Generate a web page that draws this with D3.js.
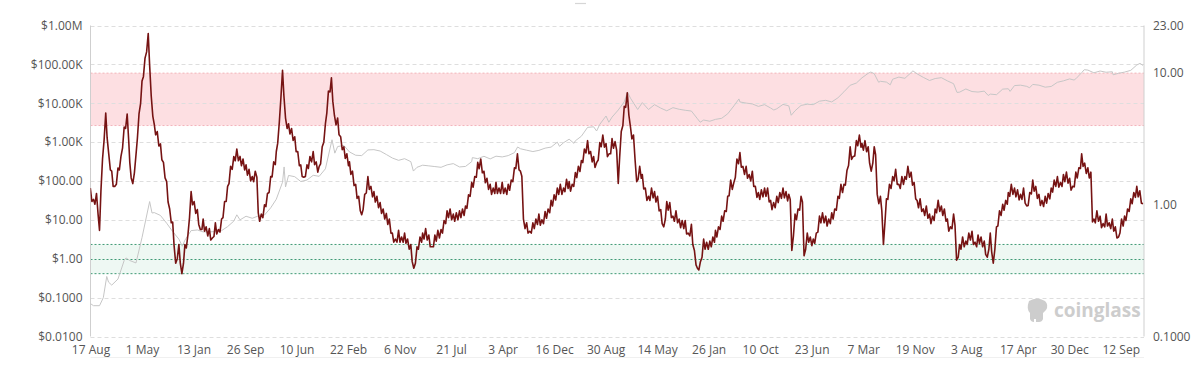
<!DOCTYPE html>
<html><head><meta charset="utf-8">
<script src="https://cdn.jsdelivr.net/npm/d3@7"></script>
<style>
body{margin:0;background:#fff}
svg{display:block}
text{font-family:"Open Sans",sans-serif}
</style>
</head><body>
<svg id="chart" width="1200" height="375"></svg>
<script>
// ---------- DATA ----------
// x-axis tick labels (every 257 days)
const tickDates = ["2010-08-17","2011-05-01","2012-01-13","2012-09-26","2013-06-10","2014-02-22","2014-11-06",
  "2015-07-21","2016-04-03","2016-12-16","2017-08-30","2018-05-14","2019-01-26","2019-10-10","2020-06-23",
  "2021-03-07","2021-11-19","2022-08-03","2023-04-17","2023-12-30","2024-09-12"];
const leftTicks = [0.01,0.1,1,10,100,1000,10000,100000,1000000];
const leftLabels = ["$0.0100","$0.1000","$1.00","$10.00","$100.00","$1.00K","$10.00K","$100.00K","$1.00M"];
const rightTicks = [0.1,1,10,23];
const rightLabels = ["0.1000","1.00","10.00","23.00"];
// Zones (right axis units)
const highZone = [4,10];
const lowZone = [0.3,0.5];

// Indicator (right axis): readings of the noisy band, 4 per month (days 1, 8, 16, 24)
const puell2010 = [1.34,1.06, 1.1,1.01,1.22,0.84, 0.64,1.27,2.23,3.13, 4.98,3.22,2.44,1.84, 1.8,1.38,1.38,1.43]; // from 16 Aug
const puell2011 = [1.9,1.84,2.33,2.71, 3.9,3.8,4.9,3.0, 2.1,1.6,1.45,1.75, 2.4,3.2,4.9,5.9, 8.7,9.4,13,14.5, 20,11.5,6.7,4.7,
  4.1,3.4,3.6,2.8, 2.9,2.2,2.1,1.6, 1.5,1.05,0.93,0.73, 0.74,0.49,0.36,0.39, 0.5,0.36,0.30,0.36, 0.5,0.47,0.59,0.8];
const puell2012 = [1.26,1.0,1.06,0.86, 0.92,0.71,0.65,0.65, 0.78,0.63,0.68,0.58, 0.66,0.54,0.56,0.575, 0.73,0.6,0.65,0.62, 0.78,0.8,1.06,1.06,
  1.38,1.45,1.96,1.86, 2.33,2.16,2.65,2.16, 2.33,1.98,2.23,1.84, 2.01,1.68,1.86,1.52, 1.64,1.5,1.8,1.62, 0.87,0.75,0.85,0.8];
const puell2013 = [1.0,0.97,1.22,1.24, 1.64,1.63,2.12,2.02, 2.54,2.94,4.24,6.5, 10.5,6.7,4.56,3.8, 4.13,3.45,3.8,3.08, 3.29,2.53,2.54,1.98,
  2.01,1.64,1.62,1.64, 2.01,1.89,2.33,2.12, 2.54,2.02,2.12,1.77, 1.96,2.05,2.76,2.99, 4.13,4.97,7.3,7.2, 9.2,6.1,4.77,4.05];
const puell2014 = [4.56,3.4,3.29,2.62, 2.76,2.25,2.44,1.98, 2.12,1.7,1.8,1.4, 1.43,1.12,1.16,0.9, 0.84,0.92,1.2,1.23, 1.64,1.31,1.38,1.15,
  1.26,1.05,1.16,0.95, 1.04,0.86,0.93,0.78, 0.86,0.71,0.78,0.61, 0.61,0.52,0.55,0.52, 0.64,0.52,0.57,0.52, 0.61,0.51,0.55,0.46];
const puell2015 = [0.5,0.37,0.33,0.36, 0.48,0.46,0.57,0.52, 0.61,0.55,0.66,0.54, 0.59,0.48,0.48,0.48, 0.59,0.53,0.64,0.56, 0.65,0.61,0.76,0.72,
  0.9,0.8,0.93,0.77, 0.85,0.75,0.87,0.77, 0.9,0.8,0.93,0.83, 0.98,0.94,1.19,1.16, 1.48,1.36,1.64,1.62, 2.1,1.88,2.23,1.75];
const puell2016 = [1.8,1.47,1.59,1.31, 1.43,1.2,1.34,1.22, 1.48,1.22,1.34,1.22, 1.48,1.22,1.34,1.2, 1.43,1.29,1.54,1.5, 1.91,1.89,2.44,1.84,
  1.8,1.65,0.78,0.66, 0.73,0.61,0.63,0.61, 0.73,0.66,0.78,0.71, 0.85,0.7,0.77,0.72, 0.89,0.79,0.93,0.87, 1.08,0.98,1.19,1.09];
const puell2017 = [1.34,1.2,1.43,1.2, 1.34,1.26,1.56,1.33, 1.5,1.27,1.43,1.38, 1.76,1.61,1.96,1.79, 2.17,2.09,2.65,2.48, 3.07,2.44,2.54,2.12,
  2.33,1.92,2.09,2.19, 2.97,2.76,3.39,2.74, 2.92,2.32,2.44,2.44, 3.18,2.69,3.02,2.6, 1.45,2.3,3.6,4.0, 5.6,5.5,7.1,4.8];
const puell2018 = [3.9,3.17,3.39,2.19, 1.5,1.56,1.96,1.59, 1.7,1.32,1.34,1.08, 1.16,1.08,1.34,1.13, 1.26,1.05,1.16,0.9, 0.92,0.72,0.68,0.78,
  1.06,0.91,1.04,0.8, 0.82,0.75,0.9,0.73, 0.78,0.67,0.76,0.66, 0.76,0.6,0.61,0.58, 0.71,0.5,0.45,0.35, 0.33,0.32,0.37,0.4];
const puell2019 = [0.55,0.46,0.52,0.46, 0.53,0.48,0.57,0.52, 0.64,0.57,0.68,0.65, 0.82,0.75,0.9,0.89, 1.16,1.17,1.54,1.31, 1.48,1.61,2.23,2.05,
  2.49,1.93,1.96,1.7, 1.96,1.59,1.7,1.52, 1.8,1.38,1.38,1.14, 1.24,1.1,1.3,1.15, 1.34,1.16,1.34,1.05, 1.08,0.92,1.04,0.95];
const puell2020 = [1.16,1.04,1.24,1.12, 1.34,1.13,1.26,1.07, 1.2,1.1,0.45,0.58, 0.85,0.77,0.93,0.91, 1.16,1.05,0.41,0.46, 0.61,0.52,0.57,0.49,
  0.55,0.51,0.61,0.62, 0.82,0.73,0.87,0.73, 0.82,0.69,0.78,0.72, 0.87,0.78,0.93,0.91, 1.16,1.12,1.43,1.24, 1.43,1.41,1.82,1.99];
const puell2021 = [2.76,2.21,2.33,2.35, 3.07,2.81,3.39,2.74, 2.92,2.6,3.07,2.53, 2.76,2.07,1.8,2.07, 2.76,2.4,1.2,1.02, 1.16,0.9,0.5,0.75,
  1.11,1.1,1.43,1.33, 1.64,1.52,1.86,1.43, 1.43,1.33,1.64,1.43, 1.64,1.56,1.96,1.62, 1.77,1.41,1.48,1.11, 1.08,0.95,1.11,0.89];
const puell2022 = [0.93,0.83,0.98,0.79, 0.85,0.72,0.82,0.76, 0.93,0.87,1.08,0.89, 0.98,0.83,0.93,0.75, 0.78,0.63,0.68,0.66, 0.85,0.7,0.38,0.4,
  0.5,0.46,0.57,0.48, 0.53,0.5,0.61,0.54, 0.63,0.5,0.52,0.48, 0.59,0.51,0.57,0.48, 0.53,0.42,0.4,0.46, 0.61,0.44,0.36,0.46];
const puell2023 = [0.68,0.69,0.9,0.83, 1.01,0.91,1.08,1.01, 1.24,1.16,1.43,1.2, 1.34,1.15,1.3,1.09, 1.2,1.1,1.34,1.03, 0.98,0.99,1.24,1.21,
  1.54,1.27,1.38,1.12, 1.2,0.99,1.08,0.97, 1.16,1.03,1.22,1.11, 1.34,1.25,1.54,1.38, 1.64,1.36,1.48,1.38, 1.7,1.5,1.77,1.46];
const puell2024 = [1.59,1.29,1.38,1.37, 1.77,1.6,1.91,1.89, 2.44,1.96,2.07,1.73, 1.91,1.6,1.77,0.74, 0.78,0.73,0.9,0.75, 0.82,0.67,0.72,0.68,
  0.85,0.69,0.73,0.66, 0.78,0.63,0.68,0.56, 0.57,0.61,0.78,0.69, 0.82,0.76,0.93,0.89, 1.11,1.02,1.24,1.14, 1.38,1.15,1.28,1.03];
const puell2025 = [1.02];
// [year, first sample index within the year (4 per month), values]
const puellYears = [[2010,30,puell2010],[2011,0,puell2011],[2012,0,puell2012],[2013,0,puell2013],[2014,0,puell2014],
  [2015,0,puell2015],[2016,0,puell2016],[2017,0,puell2017],[2018,0,puell2018],[2019,0,puell2019],[2020,0,puell2020],
  [2021,0,puell2021],[2022,0,puell2022],[2023,0,puell2023],[2024,0,puell2024],[2025,0,puell2025]];
const sampleDays = [1,8,16,24];

// Price (left axis)
const price = [["2010-08-17",0.07],["2010-09-01",0.062],["2010-10-01",0.062],["2010-10-20",0.1],["2010-11-06",0.35],["2010-11-15",0.25],
["2010-12-01",0.21],["2011-01-01",0.3],["2011-02-01",0.9],["2011-02-10",1.05],["2011-03-01",0.9],["2011-04-01",0.78],["2011-05-01",3.5],
["2011-06-08",29.6],["2011-06-20",15],["2011-07-01",15.4],["2011-08-01",13],["2011-09-01",8.2],["2011-10-01",5],["2011-11-01",3.2],
["2011-11-18",2.1],["2011-12-01",3],["2012-01-01",5.3],["2012-02-01",5.5],["2012-03-01",4.9],["2012-04-01",4.9],["2012-05-01",5],
["2012-06-01",5.3],["2012-07-01",6.7],["2012-08-01",9.3],["2012-08-16",13.5],["2012-09-01",10],["2012-10-01",12.4],["2012-11-01",11],
["2012-12-01",12.6],["2013-01-01",13.3],["2013-02-01",20.4],["2013-03-01",34],["2013-04-01",93],["2013-04-09",230],["2013-04-16",70],
["2013-05-01",139],["2013-06-01",129],["2013-07-01",97],["2013-08-01",106],["2013-09-01",140],["2013-10-01",132],["2013-11-01",206],
["2013-12-04",1150],["2013-12-18",520],["2014-01-01",770],["2014-02-01",820],["2014-03-01",560],["2014-04-01",460],["2014-05-01",450],
["2014-06-01",630],["2014-07-01",640],["2014-08-01",590],["2014-09-01",480],["2014-10-01",390],["2014-11-01",340],["2014-12-01",375],
["2015-01-01",315],["2015-01-14",180],["2015-02-01",225],["2015-03-01",255],["2015-04-01",245],["2015-05-01",235],["2015-06-01",225],
["2015-07-01",260],["2015-08-01",280],["2015-09-01",230],["2015-10-01",237],["2015-11-01",315],["2015-11-04",400],["2015-12-01",375],
["2016-01-01",432],["2016-02-01",370],["2016-03-01",435],["2016-04-01",416],["2016-05-01",450],["2016-06-01",536],["2016-06-17",750],
["2016-07-01",675],["2016-08-01",620],["2016-09-01",572],["2016-10-01",613],["2016-11-01",700],["2016-12-01",745],["2017-01-01",1000],
["2017-01-12",780],["2017-02-01",965],["2017-03-01",1190],["2017-03-25",930],["2017-04-01",1080],["2017-05-01",1420],["2017-06-01",2400],
["2017-07-01",2480],["2017-07-16",1930],["2017-08-01",2870],["2017-09-01",4700],["2017-09-15",3250],["2017-10-01",4400],["2017-11-01",6700],
["2017-12-01",10900],["2017-12-17",19500],["2018-01-01",13500],["2018-02-06",6900],["2018-03-01",10400],["2018-04-01",6900],["2018-05-01",9200],
["2018-06-01",7500],["2018-07-01",6400],["2018-08-01",7700],["2018-09-01",7000],["2018-10-01",6600],["2018-11-01",6300],["2018-12-01",4000],
["2018-12-15",3250],["2019-01-01",3700],["2019-02-01",3450],["2019-03-01",3850],["2019-04-01",4100],["2019-05-01",5350],["2019-06-01",8550],
["2019-06-26",12900],["2019-07-01",10800],["2019-08-01",10100],["2019-09-01",9600],["2019-10-01",8300],["2019-11-01",9200],["2019-12-01",7550],
["2019-12-17",6700],["2020-01-01",7200],["2020-02-01",9350],["2020-03-01",8550],["2020-03-13",4900],["2020-04-01",6400],["2020-05-01",8800],
["2020-06-01",9450],["2020-07-01",9200],["2020-08-01",11300],["2020-09-01",11900],["2020-10-01",10800],["2020-11-01",13800],["2020-12-01",19700],
["2021-01-01",29000],["2021-02-01",33100],["2021-03-01",45100],["2021-04-01",58800],["2021-04-14",63500],["2021-05-01",57700],["2021-05-23",34700],
["2021-06-01",36700],["2021-07-01",35000],["2021-07-20",29800],["2021-08-01",41500],["2021-09-01",47100],["2021-10-01",43800],["2021-11-01",61300],
["2021-11-10",68000],["2021-12-01",57000],["2022-01-01",46300],["2022-02-01",38500],["2022-03-01",43200],["2022-04-01",45500],["2022-05-01",37700],
["2022-06-01",31800],["2022-06-18",19000],["2022-07-01",19300],["2022-08-01",23300],["2022-09-01",20000],["2022-10-01",19400],["2022-11-01",20500],
["2022-11-21",15800],["2022-12-01",17200],["2023-01-01",16600],["2023-02-01",23100],["2023-03-01",23600],["2023-03-10",20200],["2023-04-01",28500],
["2023-05-01",29200],["2023-06-01",27200],["2023-06-15",25000],["2023-07-01",30500],["2023-08-01",29200],["2023-09-01",25900],["2023-10-01",27000],
["2023-11-01",34600],["2023-12-01",37700],["2024-01-01",42300],["2024-01-23",39500],["2024-02-01",42600],["2024-03-01",61200],["2024-03-14",73000],
["2024-04-01",71300],["2024-05-01",60700],["2024-06-01",67500],["2024-07-01",62700],["2024-08-01",64600],["2024-08-05",54000],["2024-09-01",58900],
["2024-10-01",63300],["2024-11-01",70200],["2024-12-01",96400],["2024-12-17",106000],["2025-01-01",94000]];

// ---------- CHART ----------
const parse = d3.utcParse("%Y-%m-%d");
const svg = d3.select("#chart");
const L = 90.5, R = 1144, T = 25.5, B = 336.5;

const x = d3.scaleUtc().domain([parse("2010-08-17"), parse("2025-01-06")]).range([L, R]);
const yL = d3.scaleLog().domain([0.01, 1e6]).range([B, T]);
const yR = d3.scaleLog().domain([0.1, 23]).range([B, T]);

const defs = svg.append("defs");
defs.append("clipPath").attr("id","clip").append("rect")
  .attr("x",L).attr("y",T-2).attr("width",R-L).attr("height",B-T+4);

// zones
svg.append("rect").attr("x",L).attr("width",R-L)
  .attr("y",yR(highZone[1])).attr("height",yR(highZone[0])-yR(highZone[1]))
  .attr("fill","#fddfe2");
svg.append("rect").attr("x",L).attr("width",R-L)
  .attr("y",yR(lowZone[1])).attr("height",yR(lowZone[0])-yR(lowZone[1]))
  .attr("fill","#eef8f3");

// gridlines
svg.append("g").selectAll("line").data(leftTicks).join("line")
  .attr("x1",L).attr("x2",R)
  .attr("y1",d=>Math.round(yL(d))+0.5).attr("y2",d=>Math.round(yL(d))+0.5)
  .attr("stroke",d=>d===1?"#3f9a75":"#dedede")
  .attr("stroke-dasharray",d=>d===1?"2,2":"4,3")
  .attr("stroke-width",1);

// zone border lines
svg.append("g").selectAll("line").data(highZone).join("line")
  .attr("x1",L).attr("x2",R)
  .attr("y1",d=>yR(d)).attr("y2",d=>yR(d))
  .attr("stroke","#f3b3ba").attr("stroke-dasharray","2,2");
svg.append("g").selectAll("line").data(lowZone).join("line")
  .attr("x1",L).attr("x2",R)
  .attr("y1",d=>yR(d)).attr("y2",d=>yR(d))
  .attr("stroke","#3f9a75").attr("stroke-dasharray","2,2");

// axis lines
svg.append("line").attr("x1",L).attr("x2",L).attr("y1",T).attr("y2",B).attr("stroke","#cfcfcf");
svg.append("line").attr("x1",R).attr("x2",R).attr("y1",T).attr("y2",B).attr("stroke","#cfcfcf");
svg.append("line").attr("x1",L).attr("x2",R).attr("y1",357.5).attr("y2",357.5).attr("stroke","#f0f0f0");
svg.append("line").attr("x1",575).attr("x2",586).attr("y1",3.5).attr("y2",3.5).attr("stroke","#d6d6d6").attr("stroke-width",1.2);

// series
const priceData = price.map(d=>({date:parse(d[0]), v:d[1]}));
const puellData = [];
puellYears.forEach(([yr,s,vals])=>{
  vals.forEach((v,i)=>{
    const k = s+i;
    puellData.push({date:new Date(Date.UTC(yr, Math.floor(k/4), sampleDays[k%4])), v});
  });
});

const plot = svg.append("g").attr("clip-path","url(#clip)");
plot.append("path").datum(priceData)
  .attr("fill","none").attr("stroke","#c6c6c6").attr("stroke-width",1)
  .attr("d", d3.line().x(d=>x(d.date)).y(d=>yL(d.v)));
plot.append("path").datum(puellData)
  .attr("fill","none").attr("stroke","#761313").attr("stroke-width",1.6)
  .attr("stroke-linejoin","round")
  .attr("d", d3.line().x(d=>x(d.date)).y(d=>yR(d.v)));

// axes
const axL = svg.append("g").attr("transform",`translate(${L},0)`)
  .call(d3.axisLeft(yL).tickValues(leftTicks).tickFormat((d,i)=>leftLabels[i]).tickSize(0).tickPadding(8));
const axR = svg.append("g").attr("transform",`translate(${R},0)`)
  .call(d3.axisRight(yR).tickValues(rightTicks).tickFormat((d,i)=>rightLabels[i]).tickSize(0).tickPadding(9));
const axB = svg.append("g").attr("transform",`translate(0,${B})`)
  .call(d3.axisBottom(x).tickValues(tickDates.map(parse)).tickFormat(d3.utcFormat("%-d %b")).tickSize(0).tickPadding(9));
[axL,axR,axB].forEach(a=>{
  a.select(".domain").remove();
  a.selectAll("text").attr("fill","#555").style("font-size","12px").style("font-family","'Open Sans',sans-serif");
});

// watermark
const wm = svg.append("g").attr("fill","#cdcdcd");
wm.append("path").attr("d","M1029,301 q8,-5 16,0 q4,4 1,9 l-3,3 l0,6 q-1,3 -4,3 l-3,0 l0,-3 l-2,0 l0,3 q-3,0 -4,-3 l0,-6 q-4,-4 -1,-12 z");
wm.append("text").attr("x",1054).attr("y",317).text("coinglass")
  .style("font-size","19px").style("font-weight","700").style("font-family","'Open Sans',sans-serif");
</script>
</body></html>
